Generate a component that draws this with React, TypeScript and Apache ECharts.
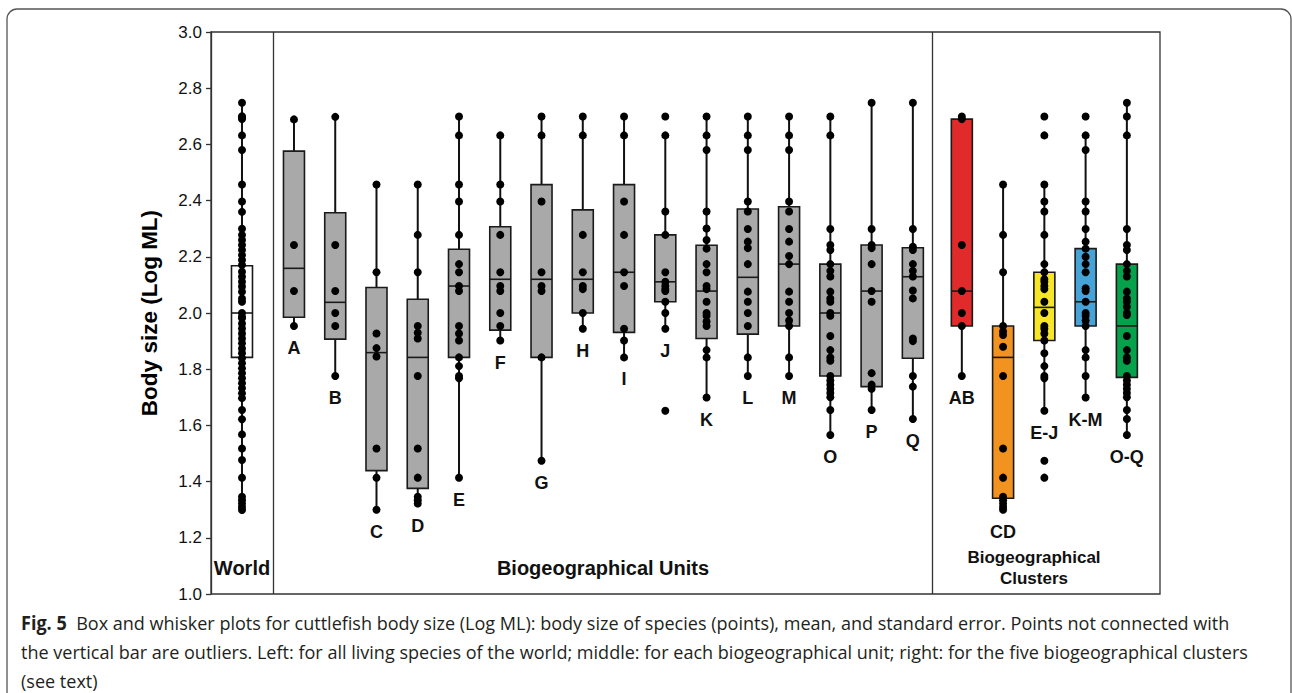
import React, { useEffect, useRef } from "react";
import * as echarts from "echarts";

// ---------- DATA ----------
const groups = ["World", "A", "B", "C", "D", "E", "F", "G", "H", "I", "J", "K", "L", "M", "O", "P", "Q", "AB", "CD", "E-J", "K-M", "O-Q"];

const whiskerLow = [1.299, 1.954, 1.776, 1.30, 1.322, 1.414, 1.902, 1.474, 1.944, 1.842, 1.944, 1.699, 1.776, 1.776, 1.566, 1.655, 1.623, 1.776, 1.30, 1.652, 1.699, 1.566];
const q1 = [1.842, 1.985, 1.907, 1.439, 1.376, 1.842, 1.939, 1.842, 2.0, 1.931, 2.04, 1.909, 1.925, 1.954, 1.776, 1.738, 1.839, 1.954, 1.341, 1.902, 1.954, 1.771];
const median = [2.0, 2.159, 2.038, 1.859, 1.842, 2.096, 2.12, 2.12, 2.12, 2.145, 2.111, 2.078, 2.127, 2.174, 2.0, 2.078, 2.129, 2.078, 1.842, 2.02, 2.04, 1.954];
const q3 = [2.168, 2.576, 2.357, 2.091, 2.049, 2.227, 2.307, 2.457, 2.367, 2.457, 2.278, 2.241, 2.37, 2.378, 2.174, 2.242, 2.232, 2.69, 1.954, 2.145, 2.229, 2.174];
const whiskerHigh = [2.748, 2.689, 2.698, 2.457, 2.457, 2.699, 2.632, 2.699, 2.699, 2.699, 2.632, 2.699, 2.699, 2.699, 2.699, 2.748, 2.748, 2.69, 2.457, 2.457, 2.632, 2.748];

const ptsWorld = [2.748, 2.70, 2.695, 2.69, 2.632, 2.58, 2.457, 2.397, 2.36, 2.30, 2.278, 2.26, 2.242, 2.224, 2.206, 2.189, 2.171, 2.147, 2.129, 2.111, 2.094, 2.076, 2.052, 2.040, 2.0, 1.987, 1.981, 1.963, 1.945, 1.927, 1.909, 1.892, 1.874, 1.857, 1.839, 1.821, 1.803, 1.786, 1.768, 1.750, 1.732, 1.714, 1.697, 1.655, 1.622, 1.568, 1.518, 1.477, 1.414, 1.346, 1.334, 1.322, 1.31, 1.299];
const ptsA = [2.689, 2.242, 2.078, 1.954];
const ptsB = [2.698, 2.242, 2.078, 2.0, 1.954, 1.776];
const ptsC = [2.457, 2.145, 1.927, 1.875, 1.845, 1.518, 1.414, 1.30];
const ptsD = [2.457, 2.278, 2.145, 1.954, 1.93, 1.909, 1.776, 1.518, 1.414, 1.346, 1.334, 1.322];
const ptsE = [2.699, 2.632, 2.457, 2.397, 2.278, 2.174, 2.145, 2.096, 2.078, 1.954, 1.927, 1.902, 1.842, 1.811, 1.776, 1.768, 1.414];
const ptsF = [2.632, 2.457, 2.397, 2.278, 2.145, 2.096, 2.078, 2.0, 1.954, 1.902];
const ptsG = [2.699, 2.632, 2.397, 2.145, 2.096, 2.078, 1.842, 1.474];
const ptsH = [2.699, 2.632, 2.278, 2.145, 2.096, 2.085, 2.0, 1.944];
const ptsI = [2.699, 2.632, 2.397, 2.278, 2.145, 2.096, 1.944, 1.902, 1.842];
const ptsJ = [2.699, 2.632, 2.361, 2.278, 2.145, 2.111, 2.096, 2.085, 2.078, 2.04, 2.0, 1.944, 1.652];
const ptsK = [2.699, 2.632, 2.58, 2.361, 2.301, 2.26, 2.229, 2.174, 2.145, 2.096, 2.085, 2.04, 2.0, 1.99, 1.97, 1.954, 1.868, 1.842, 1.699];
const ptsL = [2.699, 2.632, 2.58, 2.397, 2.361, 2.299, 2.254, 2.231, 2.174, 2.076, 2.04, 2.0, 1.954, 1.842, 1.776];
const ptsM = [2.699, 2.632, 2.58, 2.397, 2.361, 2.299, 2.254, 2.203, 2.174, 2.076, 2.04, 2.0, 1.973, 1.954, 1.842, 1.776];
const ptsO = [2.699, 2.632, 2.299, 2.242, 2.224, 2.174, 2.15, 2.13, 2.076, 2.052, 2.04, 2.0, 1.99, 1.918, 1.868, 1.842, 1.83, 1.776, 1.76, 1.745, 1.73, 1.715, 1.70, 1.655, 1.566];
const ptsP = [2.748, 2.299, 2.242, 2.231, 2.174, 2.078, 2.04, 1.786, 1.745, 1.73, 1.655];
const ptsQ = [2.748, 2.299, 2.236, 2.224, 2.174, 2.15, 2.13, 2.08, 2.052, 1.909, 1.90, 1.776, 1.738, 1.623];
const ptsAB = [2.699, 2.69, 2.242, 2.078, 2.0, 1.954, 1.776];
const ptsCD = [2.457, 2.278, 2.145, 1.954, 1.934, 1.922, 1.88, 1.776, 1.518, 1.414, 1.346, 1.334, 1.322, 1.31, 1.30];
const ptsEJ = [2.699, 2.632, 2.457, 2.397, 2.361, 2.278, 2.174, 2.145, 2.12, 2.111, 2.096, 2.085, 2.04, 2.0, 1.954, 1.944, 1.927, 1.902, 1.857, 1.811, 1.776, 1.768, 1.652, 1.474, 1.414];
const ptsKM = [2.699, 2.632, 2.58, 2.397, 2.361, 2.299, 2.254, 2.229, 2.20, 2.174, 2.145, 2.088, 2.078, 2.04, 2.0, 1.99, 1.973, 1.954, 1.868, 1.842, 1.776, 1.699];
const ptsOQ = [2.748, 2.699, 2.632, 2.299, 2.242, 2.224, 2.174, 2.15, 2.13, 2.076, 2.052, 2.04, 2.022, 2.0, 1.993, 1.918, 1.868, 1.842, 1.83, 1.776, 1.76, 1.745, 1.73, 1.715, 1.70, 1.655, 1.623, 1.566];

const groupPoints = [ptsWorld, ptsA, ptsB, ptsC, ptsD, ptsE, ptsF, ptsG, ptsH, ptsI, ptsJ, ptsK, ptsL, ptsM, ptsO, ptsP, ptsQ, ptsAB, ptsCD, ptsEJ, ptsKM, ptsOQ];

const sectionTitles = ["World", "Biogeographical Units", "Biogeographical", "Clusters"];
const captionLines = [
  "Box and whisker plots for cuttlefish body size (Log ML): body size of species (points), mean, and standard error. Points not connected with",
  "the vertical bar are outliers. Left: for all living species of the world; middle: for each biogeographical unit; right: for the five biogeographical clusters",
  "(see text)",
];
const captionLead = "Fig. 5";
const yAxisTitle = "Body size (Log ML)";

// ---------- STYLE / LAYOUT ----------
const GRAY = "#a9a9a9";
const boxFills = groups.map((g, i) => {
  if (i === 0) return "#ffffff";
  const special: Record<string, string> = { AB: "#e12b2b", CD: "#f3931f", "E-J": "#f6e52b", "K-M": "#46a3d7", "O-Q": "#06a14b" };
  return special[g] || GRAY;
});
// x positions (layout): gaps between sections
const xPos = groups.map((_, i) => (i === 0 ? 0 : i <= 16 ? i + 0.26 : i + 0.447));
const dividers = [0.751, 16.72];
const X_MIN = -0.751;
const X_MAX = 22.25;
const FONT = "'Liberation Sans', Arial, sans-serif";
const CAP_FONT = "'Open Sans', sans-serif";

export default function App() {
  const ref = useRef<HTMLDivElement>(null);
  useEffect(() => {
    if (!ref.current) return;
    const chart = echarts.init(ref.current, undefined, { renderer: "svg" });

    const boxData = groups.map((g, i) => [xPos[i], whiskerLow[i], q1[i], median[i], q3[i], whiskerHigh[i], i]);
    const scatterData: number[][] = [];
    groupPoints.forEach((arr, i) => arr.forEach((v) => scatterData.push([xPos[i], v])));

    const boldText = (x: number, y: number, text: string, size: number) => ({
      type: "text",
      x,
      y,
      style: { text, fontFamily: FONT, fontWeight: "bold", fontSize: size, fill: "#111", align: "center", verticalAlign: "middle" },
    });

    const option: any = {
      animation: false,
      grid: { left: 211, top: 32, width: 949, height: 562, show: true, borderColor: "#333", borderWidth: 1.3, backgroundColor: "transparent" },
      xAxis: { type: "value", min: X_MIN, max: X_MAX, show: false, splitLine: { show: false } },
      yAxis: {
        type: "value",
        min: 1,
        max: 3,
        interval: 0.2,
        name: yAxisTitle,
        nameLocation: "middle",
        nameGap: 50,
        nameRotate: 90,
        nameTextStyle: { fontFamily: FONT, fontWeight: "bold", fontSize: 22.5, color: "#000" },
        axisLine: { show: true, onZero: false, lineStyle: { color: "#333", width: 1.3 } },
        axisTick: { show: true, length: 5, lineStyle: { color: "#333", width: 1.3 } },
        axisLabel: { fontFamily: FONT, fontSize: 17, color: "#111", margin: 9, formatter: (v: number) => v.toFixed(1) },
        splitLine: { show: false },
      },
      series: [
        {
          type: "custom",
          data: boxData,
          z: 2,
          renderItem: (params: any, api: any) => {
            const x = api.value(0);
            const idx = api.value(6);
            const pLo = api.coord([x, api.value(1)]);
            const pQ1 = api.coord([x, api.value(2)]);
            const pMed = api.coord([x, api.value(3)]);
            const pQ3 = api.coord([x, api.value(4)]);
            const pHi = api.coord([x, api.value(5)]);
            const hw = 10.5;
            const children: any[] = [
              { type: "line", shape: { x1: pLo[0], y1: pLo[1], x2: pHi[0], y2: pHi[1] }, style: { stroke: "#111", lineWidth: 2 } },
              {
                type: "rect",
                shape: { x: pQ3[0] - hw, y: pQ3[1], width: hw * 2, height: pQ1[1] - pQ3[1] },
                style: { fill: boxFills[idx], stroke: "#1a1a1a", lineWidth: 1.6 },
              },
              { type: "line", shape: { x1: pMed[0] - hw, y1: pMed[1], x2: pMed[0] + hw, y2: pMed[1] }, style: { stroke: "#1a1a1a", lineWidth: 1.6 } },
            ];
            if (idx > 0) {
              children.push({
                type: "text",
                x: pLo[0],
                y: pLo[1] + 22,
                style: { text: groups[idx], fontFamily: FONT, fontWeight: "bold", fontSize: 18, fill: "#111", align: "center", verticalAlign: "middle" },
              });
            }
            return { type: "group", children };
          },
        },
        {
          type: "scatter",
          data: scatterData,
          symbol: "circle",
          symbolSize: 8,
          z: 3,
          itemStyle: { color: "#000", opacity: 1 },
          markLine: {
            silent: true,
            symbol: "none",
            label: { show: false },
            lineStyle: { color: "#333", width: 1.3, type: "solid" },
            data: dividers.map((d) => ({ xAxis: d })),
          },
        },
      ],
      graphic: [
        { type: "rect", shape: { x: 7, y: 9, width: 1284, height: 700, r: 10 }, style: { fill: "none", stroke: "#555", lineWidth: 1.3 }, silent: true },
        boldText(242, 568, sectionTitles[0], 20),
        boldText(603, 568, sectionTitles[1], 20),
        boldText(1034, 557, sectionTitles[2], 17),
        boldText(1034, 578, sectionTitles[3], 17),
        {
          type: "text",
          x: 21,
          y: 622,
          scaleX: 0.95,
          style: {
            text: "{b|" + captionLead + "}  " + captionLines[0],
            fontFamily: CAP_FONT,
            fontSize: 19,
            fill: "#231f20",
            verticalAlign: "middle",
            rich: { b: { fontFamily: CAP_FONT, fontWeight: "bold", fontSize: 19, fill: "#231f20" } },
          },
        },
        { type: "text", x: 21, y: 651, scaleX: 0.95, style: { text: captionLines[1], fontFamily: CAP_FONT, fontSize: 19, fill: "#231f20", verticalAlign: "middle" } },
        { type: "text", x: 21, y: 680, scaleX: 0.95, style: { text: captionLines[2], fontFamily: CAP_FONT, fontSize: 19, fill: "#231f20", verticalAlign: "middle" } },
      ],
    };
    chart.setOption(option);
    return () => chart.dispose();
  }, []);
  return <div ref={ref} style={{ position: "fixed", left: 0, top: 0, width: 1292, height: 693, background: "#fff" }} />;
}
